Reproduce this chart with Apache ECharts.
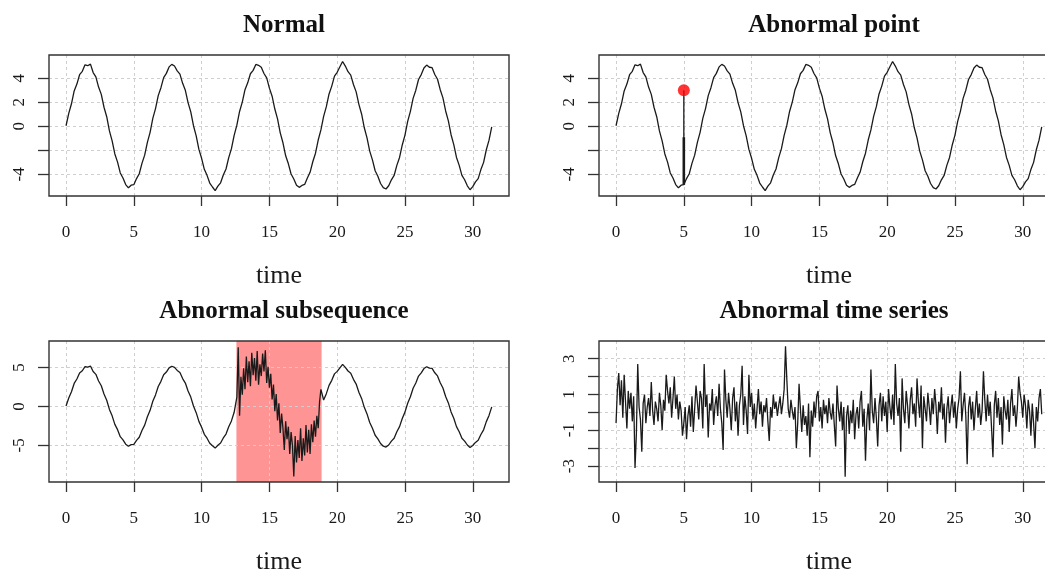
<!DOCTYPE html>
<html><head><meta charset="utf-8">
<script src="https://cdn.jsdelivr.net/npm/echarts@6/dist/echarts.min.js"></script>
<style>html,body{margin:0;padding:0;background:#fff;overflow:hidden}#c{width:1045px;height:571px}</style>
</head><body><div id="c"></div>
<script>
// ---------- data ----------
const titles = ['Normal', 'Abnormal point', 'Abnormal subsequence', 'Abnormal time series'];
const xTicks = [0, 5, 10, 15, 20, 25, 30];

// sine-like series, sampled every 0.2 time units (0 .. 31.4)
const sineStep = 0.2;
const normalValues = [
  0.05, 1.08, 1.88, 2.95, 3.52, 4.30, 4.58, 5.12, 5.05, 5.18,
  4.48, 4.12, 3.27, 2.66, 1.59, 0.80, -0.38, -1.21, -2.30, -2.98,
  -3.88, -4.30, -4.85, -5.12, -4.90, -4.86, -4.35, -3.95, -3.08, -2.40,
  -1.33, -0.50, 0.66, 1.48, 2.56, 3.22, 4.06, 4.41, 4.95, 5.16,
  5.02, 4.62, 4.35, 3.58, 3.00, 1.98, 1.20, 0.05, -0.80, -1.92,
  -2.66, -3.58, -4.08, -4.72, -5.05, -5.35, -4.98, -4.70, -4.05, -3.55,
  -2.61, -1.86, -0.75, 0.10, 1.24, 2.02, 3.05, 3.62, 4.38, 4.66,
  5.15, 5.08, 4.92, 4.40, 4.03, 3.18, 2.51, 1.44, 0.62, -0.54,
  -1.37, -2.45, -3.12, -3.97, -4.38, -4.90, -5.08, -4.92, -4.84, -4.30,
  -3.83, -2.95, -2.24, -1.14, -0.30, 0.83, 1.64, 2.70, 3.35, 4.18,
  4.50, 4.96, 5.40, 5.02, 4.55, 4.27, 3.48, 2.87, 1.83, 1.03,
  -0.12, -0.96, -2.06, -2.79, -3.70, -4.16, -4.76, -5.10, -5.22, -4.95,
  -4.45, -4.09, -3.25, -2.59, -1.55, -0.73, 0.41, 1.25, 2.33, 3.01,
  3.90, 4.31, 4.86, 5.10, 4.92, 4.88, 4.32, 3.92, 3.05, 2.37,
  1.28, 0.45, -0.70, -1.52, -2.59, -3.25, -4.08, -4.45, -4.95, -5.28,
  -5.02, -4.62, -4.35, -3.60, -3.00, -1.95, -1.15, -0.05
];

// abnormal point
const spikeTime = 5;
const spikeValue = 3.0;
const spikeInnerValue = -0.9;

// abnormal subsequence (window and its noisy values, every 0.1 from 12.6 to 18.8)
const subseqStart = 12.566;
const subseqEnd = 18.85;
const subseqFirstTime = 12.6;
const subseqStep = 0.1;
const subseqValues = [
  1.2, 7.6, -1.2, 3.8,
  1.5, 4.9, 2.2, 6.4, 3.1, 5.8, 2.6, 6.9, 4.0, 6.2,
  3.3, 7.1, 2.8, 5.4, 3.9, 6.8, 4.5, 7.2, 3.0, 5.1,
  2.4, 4.2, 0.9, 2.8, -0.6, 1.6, -1.8, 0.4, -3.4, -0.9,
  -2.8, -5.6, -1.9, -4.2, -2.6, -6.1, -3.3, -5.0, -9.0, -3.8,
  -7.2, -4.3, -6.6, -2.8, -7.0, -4.1, -6.3, -2.4, -5.9, -3.0,
  -6.1, -2.3, -4.6, -1.8, -3.9, -1.2, -2.8, 0.6, 2.2
];

// abnormal time series (pure noise), every 0.1 from 0 to 31.4
const noiseStep = 0.1;
const noiseValues = [
  -0.6, 1.3, 2.2, 0.4, 1.8, -0.3, 2.1, 0.6, -0.9, 1.2,
  0.2, 1.1, -0.5, 0.9, -3.1, -1.2, 2.7, 0.3, -0.4, -2.2,
  0.5, 1.0, -0.6, 0.3, 0.8, -0.2, 1.7, 0.1, -0.7, 0.6,
  0.2, -0.5, 1.1, 0.4, -1.0, 0.7, 0.1, 2.1, 1.2, 0.5,
  1.4, -0.3, 0.8, 2.0, 0.2, 1.0, -0.4, 0.6, 0.1, -1.3,
  -0.6, 0.3, -1.5, -0.2, 0.4, -0.8, 0.9, -1.1, 0.2, 1.5,
  0.6, -0.4, 1.2, 0.8, -0.9, 2.7, 0.3, 1.0, -1.4, 0.5,
  0.1, 1.3, -0.7, 0.4, 0.9, -0.2, 1.6, 0.2, -0.6, -2.1,
  2.4, 0.7, -0.3, 1.1, 0.2, -1.0, 0.8, 1.4, -0.5, 0.6,
  -1.3, 0.4, 1.0, 2.6, -0.7, 0.9, 0.1, -1.2, 2.1, 0.3,
  1.1, -0.4, 0.5, -0.9, 0.2, 1.3, -0.1, 0.6, -0.8, 0.4,
  0.0, 0.8, -0.5, -1.6, 0.3, -0.3, 1.0, 0.2, 0.6, -0.2,
  0.4, 0.9, -0.1, 0.5, 1.3, 3.7, 1.8, 0.2, -0.3, 0.7,
  0.1, -0.4, 0.3, -2.0, -0.6, 1.6, 0.2, -1.1, 0.4, -0.7,
  -0.2, -1.3, 0.5, -2.5, 0.1, -0.8, 0.6, -0.3, 0.9, 1.2,
  -0.5, 0.3, -0.9, 0.7, -0.1, 0.4, -0.6, 0.8, 0.0, -0.4,
  0.5, -0.7, -1.9, 1.5, 0.2, -0.5, 0.6, -1.0, 0.3, -3.6,
  -0.2, 0.4, -1.2, 0.1, -0.6, 0.7, -1.5, -0.1, 0.3, -0.9,
  0.6, 1.2, -0.8, 0.2, -2.7, -0.4, 0.5, -1.0, 2.4, 0.1,
  -0.6, 0.8, -0.3, -1.9, 0.4, 1.1, -0.5, 0.9, -0.2, 0.6,
  -1.1, 1.3, 0.3, -0.4, 1.0, -0.7, 2.7, 0.5, -0.2, 0.8,
  -2.2, 1.9, 0.2, -0.6, 1.2, 0.4, -0.9, 0.7, 1.4, -0.1,
  0.5, -0.8, 1.9, 0.6, -0.3, 1.5, -2.0, 0.9, 0.2, -0.5,
  1.1, 0.3, -0.7, 0.8, -0.1, 1.3, 0.4, -1.2, 0.6, 0.0,
  1.4, -0.4, 0.5, -1.7, 0.2, 0.9, -0.6, 0.3, 1.0, -0.3,
  0.6, -0.9, 0.2, 0.8, 2.3, -0.5, 0.4, 1.1, -0.2, -2.9,
  0.3, 0.9, -0.4, 0.6, -1.0, 0.2, 1.2, -0.3, 0.5, -0.7,
  0.1, 2.3, 0.7, -0.5, 1.0, -0.2, 0.6, -0.9, -2.5, 0.4,
  1.2, -0.3, 0.8, -0.7, 0.3, -1.8, 0.9, 0.1, -0.4, 0.7,
  -1.1, 0.5, 1.3, -0.2, 0.4, -0.8, 0.2, 2.0, 1.1, 0.6,
  -0.3, 1.0, 0.4, -0.9, 0.7, 0.1, -1.3, 0.5, -0.6, -2.0,
  0.3, -0.5, 0.8, 1.3, -0.1
];

// axis ticks / labels / ranges
const yTicksSine = [-4, -2, 0, 2, 4];
const yLabelsSine = [-4, 0, 2, 4];
const yRangeSine = [-5.8, 5.94];
const yTicksSub = [-5, 0, 5];
const yLabelsSub = [-5, 0, 5];
const yRangeSub = [-9.7, 8.4];
const yTicksNoise = [-3, -2, -1, 0, 1, 2, 3];
const yLabelsNoise = [-3, -1, 1, 3];
const yRangeNoise = [-3.89, 3.99];
const xRange = [-1.257, 32.673];

// ---------- build ----------
const r2 = v => Math.round(v * 100) / 100;
const normalPairs = normalValues.map((v, i) => [r2(i * sineStep), v]);
const spikeIdx = normalPairs.findIndex(p => Math.abs(p[0] - spikeTime) < 1e-6);
const spikeBase = normalPairs[spikeIdx][1];
const subseqPairs = subseqValues.map((v, i) => [r2(subseqFirstTime + i * subseqStep), v]);
const subseqLast = subseqPairs[subseqPairs.length - 1][0];
const subPanelPairs = normalPairs.filter(p => p[0] < subseqFirstTime - 1e-6)
  .concat(subseqPairs)
  .concat(normalPairs.filter(p => p[0] > subseqLast + 1e-6));
const noisePairs = noiseValues.map((v, i) => [r2(i * noiseStep), v]);

const grids = [
  { left: 49, top: 55, width: 460, height: 141 },
  { left: 599, top: 55, width: 460, height: 141 },
  { left: 49, top: 341, width: 460, height: 141 },
  { left: 599, top: 341, width: 460, height: 141 }
];
const FONT = 'Liberation Serif, Times New Roman, serif';
const TXT = '#1a1a1a';
const grid = { type: [3, 3], color: '#cfcfcf', width: 1 };

function xAxis(i) {
  return {
    type: 'value', gridIndex: i, min: xRange[0], max: xRange[1], z: 2,
    name: 'time', nameLocation: 'middle', nameGap: 67,
    nameTextStyle: { fontFamily: FONT, fontSize: 26, color: TXT },
    axisLine: { show: false, onZero: false },
    axisTick: { show: true, inside: false, length: 10, customValues: xTicks, lineStyle: { color: '#333', width: 1.3 } },
    axisLabel: { customValues: xTicks, margin: 28, fontFamily: FONT, fontSize: 17, color: TXT },
    splitLine: { show: true, lineStyle: grid }
  };
}
function yAxis(i, rng, ticks, labels) {
  return {
    type: 'value', gridIndex: i, min: rng[0], max: rng[1], z: 2,
    axisLine: { show: false, onZero: false },
    axisTick: { show: true, inside: false, length: 11, customValues: ticks, lineStyle: { color: '#333', width: 1.3 } },
    axisLabel: { customValues: labels, rotate: 90, margin: 21, fontFamily: FONT, fontSize: 17, color: TXT,
      formatter: v => String(v) },
    splitLine: { show: true, lineStyle: grid }
  };
}
const lineStyle = { color: '#1a1a1a', width: 1.3 };
function line(i, data, z) {
  return { type: 'line', xAxisIndex: i, yAxisIndex: i, data, symbol: 'none', animation: false,
    lineStyle, z: z || 3, silent: true };
}

const option = {
  animation: false,
  backgroundColor: '#fff',
  title: titles.map((t, i) => ({
    text: t, left: grids[i].left + grids[i].width / 2, top: grids[i].top - 47, textAlign: 'center',
    textStyle: { fontFamily: FONT, fontSize: 25, fontWeight: 'bold', color: '#111' }
  })),
  grid: grids.map(g => Object.assign({ show: true, borderColor: '#333', borderWidth: 1.4, backgroundColor: 'transparent',
    z: 5, containLabel: false, outerBoundsMode: 'none' }, g)),
  xAxis: [0, 1, 2, 3].map(xAxis),
  yAxis: [
    yAxis(0, yRangeSine, yTicksSine, yLabelsSine),
    yAxis(1, yRangeSine, yTicksSine, yLabelsSine),
    yAxis(2, yRangeSub, yTicksSub, yLabelsSub),
    yAxis(3, yRangeNoise, yTicksNoise, yLabelsNoise)
  ],
  series: [
    line(0, normalPairs),
    line(1, normalPairs),
    { type: 'line', xAxisIndex: 1, yAxisIndex: 1, data: [[spikeTime, spikeBase], [spikeTime, spikeValue]],
      symbol: 'none', lineStyle: { color: '#1a1a1a', width: 1.3 }, z: 3 },
    { type: 'line', xAxisIndex: 1, yAxisIndex: 1, data: [[spikeTime, spikeBase], [spikeTime, spikeInnerValue]],
      symbol: 'none', lineStyle: { color: '#1a1a1a', width: 2.6 }, z: 3 },
    { type: 'scatter', xAxisIndex: 1, yAxisIndex: 1, data: [[spikeTime, spikeValue]], symbolSize: 12,
      itemStyle: { color: '#ff0000' }, z: 4 },
    { type: 'line', xAxisIndex: 2, yAxisIndex: 2, data: [], z: 1,
      markArea: { silent: true, itemStyle: { color: 'rgba(255,0,0,0.42)' },
        data: [[{ xAxis: subseqStart }, { xAxis: subseqEnd }]] } },
    line(2, subPanelPairs),
    line(3, noisePairs)
  ]
};
const chart = echarts.init(document.getElementById('c'), null, { renderer: 'canvas' });
chart.setOption(option);
</script>
</body></html>
